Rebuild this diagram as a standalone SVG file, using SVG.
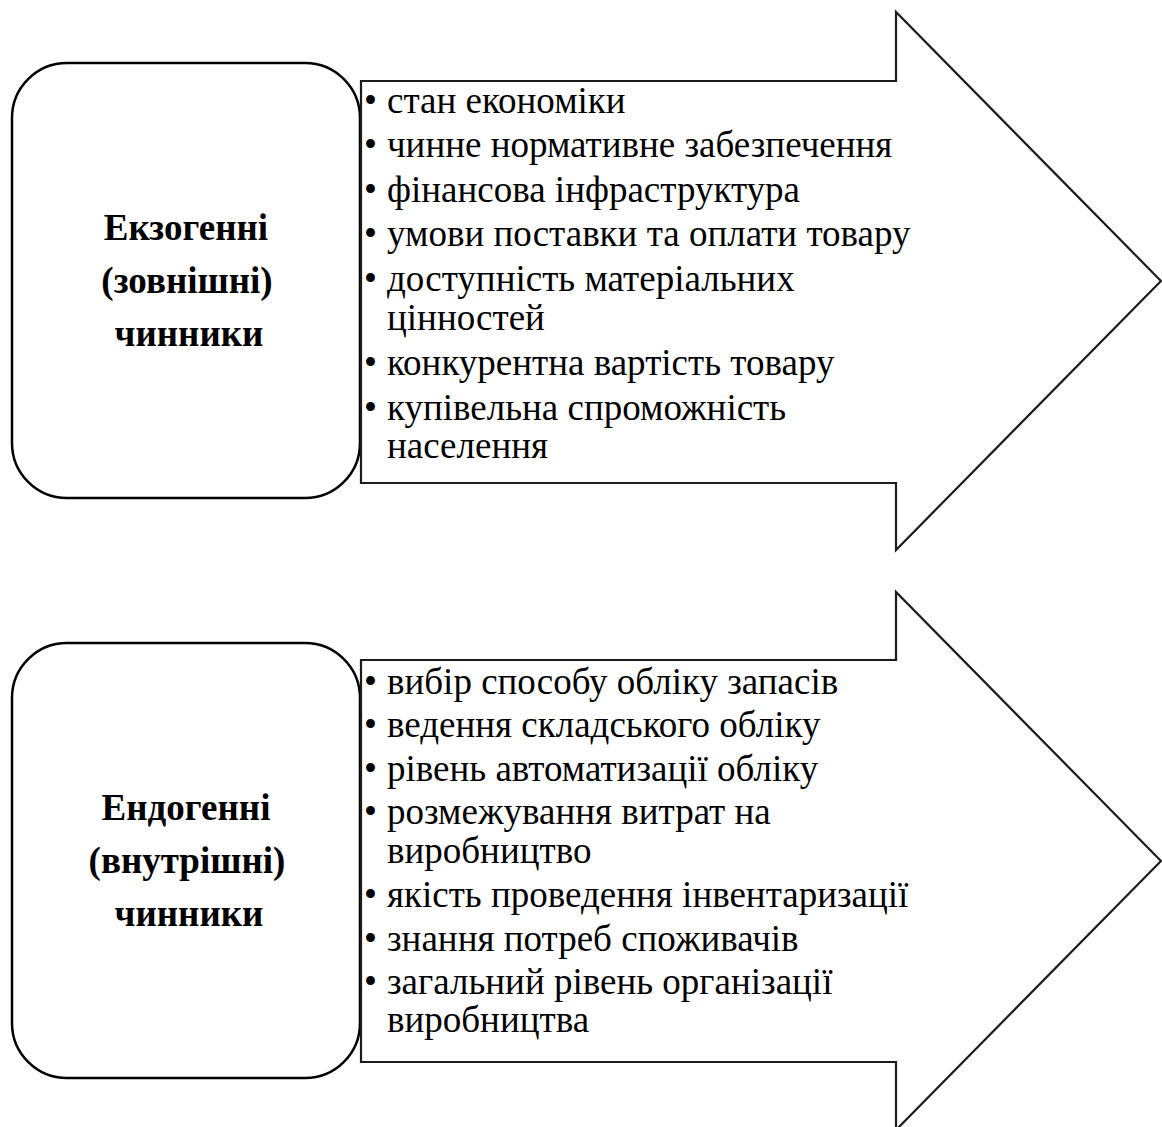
<svg xmlns="http://www.w3.org/2000/svg" width="1162" height="1127" viewBox="0 0 1162 1127">
<style>
.box{fill:#fff;stroke:#000;stroke-width:2.5}
.arrow{fill:#fff;stroke:#1c1c1c;stroke-width:2.2;stroke-linejoin:miter}
.title{font-family:"Liberation Serif","Times New Roman",serif;font-size:37px;font-weight:bold;fill:#000;text-anchor:middle}
.item{font-family:"Liberation Serif","Times New Roman",serif;font-size:37px;fill:#000}
</style>
<rect width="1162" height="1127" fill="#fff"/>
<g id="connectors"></g>
<g id="exo">
<rect class="box" x="12" y="63" width="348" height="435" rx="55" ry="55"/>
<text class="title" x="186" y="240">Екзогенні</text>
<text class="title" x="187" y="293">(зовнішні)</text>
<text class="title" x="189" y="346">чинники</text>
</g>
<g id="exo-arrow">
<polygon class="arrow" points="361,81 896,81 896,12 1161,281 896,550 896,483 361,483"/>
<g class="item">
<text x="364" y="113">•</text><text x="387" y="113">стан економіки</text>
<text x="364" y="157">•</text><text x="387" y="157">чинне нормативне забезпечення</text>
<text x="364" y="201.5">•</text><text x="387" y="201.5">фінансова інфраструктура</text>
<text x="364" y="246">•</text><text x="387" y="246">умови поставки та оплати товару</text>
<text x="364" y="291">•</text><text x="387" y="291">доступність матеріальних</text>
<text x="387" y="330">цінностей</text>
<text x="364" y="375">•</text><text x="387" y="375">конкурентна вартість товару</text>
<text x="364" y="419.5">•</text><text x="387" y="419.5">купівельна спроможність</text>
<text x="387" y="458">населення</text>
</g>
</g>
<g id="endo">
<rect class="box" x="12" y="643" width="348" height="435" rx="55" ry="55"/>
<text class="title" x="186" y="820">Ендогенні</text>
<text class="title" x="187" y="873">(внутрішні)</text>
<text class="title" x="189" y="926">чинники</text>
</g>
<g id="endo-arrow">
<polygon class="arrow" points="361,660 896,660 896,592 1161,861 896,1130 896,1062 361,1062"/>
<g class="item">
<text x="364" y="693.5">•</text><text x="387" y="693.5">вибір способу обліку запасів</text>
<text x="364" y="737">•</text><text x="387" y="737">ведення складського обліку</text>
<text x="364" y="780.5">•</text><text x="387" y="780.5">рівень автоматизації обліку</text>
<text x="364" y="824">•</text><text x="387" y="824">розмежування витрат на</text>
<text x="387" y="863">виробництво</text>
<text x="364" y="907">•</text><text x="387" y="907">якість проведення інвентаризації</text>
<text x="364" y="950.5">•</text><text x="387" y="950.5">знання потреб споживачів</text>
<text x="364" y="994">•</text><text x="387" y="994">загальний рівень організації</text>
<text x="387" y="1032">виробництва</text>
</g>
</g>
</svg>
